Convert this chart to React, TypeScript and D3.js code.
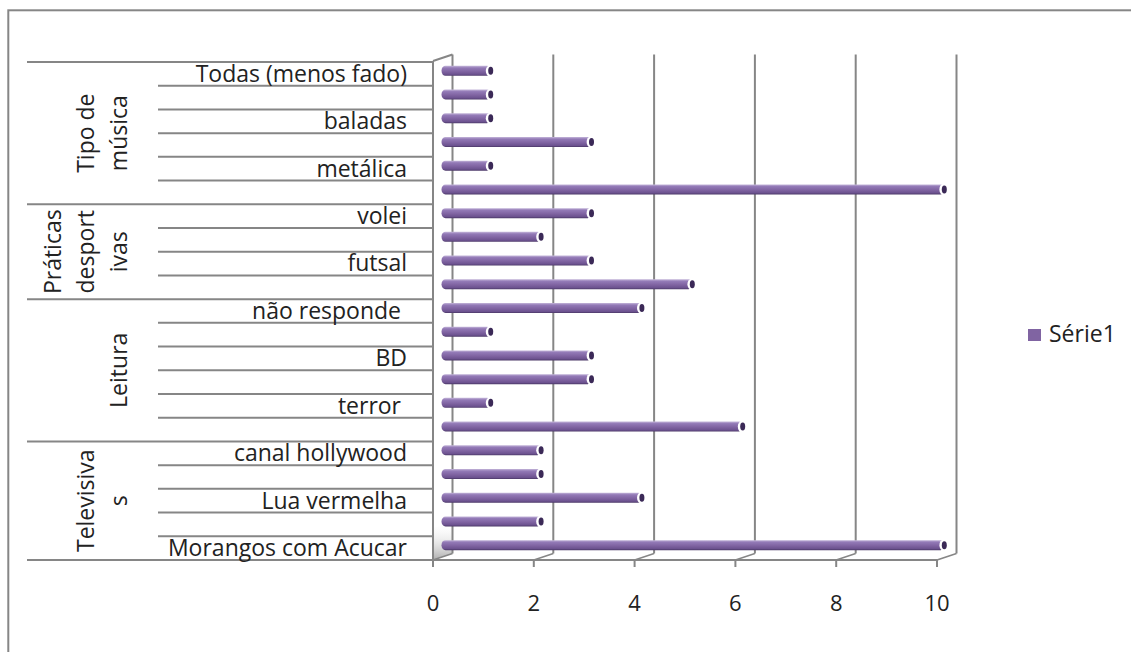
import React from "react";
import * as d3 from "d3";

// ---- data ----
const categories: string[] = [
  "Todas (menos fado)", "", "baladas", "", "metálica", "",
  "volei", "", "futsal", "",
  "não responde ", "", "BD", "", "terror ", "",
  "canal hollywood", "", "Lua vermelha", "", "Morangos com Acucar",
];
const values: number[] = [
  1, 1, 1, 3, 1, 10,
  3, 2, 3, 5,
  4, 1, 3, 3, 1, 6,
  2, 2, 4, 2, 10,
];
const groupNames: string[] = ["Tipo de música", "Práticas desportivas", "Leitura", "Televisivas"];
const groupLines: string[][] = [["Tipo de", "música"], ["Práticas", "desport", "ivas"], ["Leitura"], ["Televisiva", "s"]];
const groupSizes: number[] = [6, 4, 6, 5];
const xTicks: number[] = [0, 2, 4, 6, 8, 10];
const seriesName = "Série1";

const W = 1131;
const H = 652;
const FONT = "'Open Sans', 'Liberation Sans', sans-serif";
const GRAY = "#868686";
const PURPLE = "#8064A2";

export default function App() {
  const x = d3.scaleLinear().domain([0, 10]).range([433, 937]);
  const y = d3.scaleBand<number>().domain(d3.range(categories.length)).range([62, 560]);
  const bw = y.bandwidth();
  const DX = 19.5; // depth offset
  const DY = -6.5;
  const barX = (v: number) => x(v) + 8.5;
  const barDY = -3;

  const bounds: number[] = [0];
  groupSizes.forEach((s) => bounds.push(bounds[bounds.length - 1] + s));
  const yAt = (i: number) => (i < categories.length ? (y(i) as number) : 560);

  return (
    <svg width={W} height={H} style={{ position: "absolute", left: 0, top: 0, background: "#fff" }} fontFamily={FONT}>
      <defs>
        <linearGradient id="barGrad" x1="0" y1="0" x2="0" y2="1">
          <stop offset="0" stopColor="#c4b6da" />
          <stop offset="0.2" stopColor="#937ab7" />
          <stop offset="0.55" stopColor="#8064a2" />
          <stop offset="0.85" stopColor="#6c528f" />
          <stop offset="1" stopColor="#4a3766" />
        </linearGradient>
        <linearGradient id="wallGrad" x1="0" y1="0" x2="0" y2="1">
          <stop offset="0" stopColor="#ffffff" stopOpacity="0" />
          <stop offset="1" stopColor="#9a9a9a" stopOpacity="0.8" />
        </linearGradient>
      </defs>
      <rect x={0} y={0} width={W} height={H} fill="#fff" />
      <rect x={8.3} y={10.3} width={1200} height={700} fill="none" stroke={GRAY} strokeWidth={2} />

      <polygon
        points={`433,528 ${433 + DX},${528 + DY} ${433 + DX},${560 + DY} 433,560`}
        fill="url(#wallGrad)"
      />

      {xTicks.map((t) => (
        <line key={"g" + t} x1={x(t) + DX} x2={x(t) + DX} y1={61 + DY} y2={560 + DY} stroke={GRAY} strokeWidth={2} />
      ))}
      {xTicks.map((t) => (
        <g key={"f" + t}>
          <line x1={x(t)} y1={560} x2={x(t) + DX} y2={560 + DY} stroke={GRAY} strokeWidth={1.5} />
          <line x1={x(t)} y1={560} x2={x(t)} y2={567} stroke={GRAY} strokeWidth={2} />
          <text x={x(t)} y={611} textAnchor="middle" fontSize={22} fill="#222">{t}</text>
        </g>
      ))}
      <line x1={x(0)} x2={x(10)} y1={560} y2={560} stroke={GRAY} strokeWidth={2} />
      <line x1={433} x2={433} y1={61} y2={567} stroke={GRAY} strokeWidth={2} />
      <line x1={433} y1={61} x2={433 + DX} y2={61 + DY} stroke={GRAY} strokeWidth={2} />

      {values.map((v, i) => {
        const cy = (y(i) as number) + bw / 2 + barDY;
        const x0 = barX(0);
        const xe = barX(v);
        const h = 10;
        return (
          <g key={"b" + i}>
            <rect x={x0} y={cy - h / 2} width={Math.max(0, xe - x0 - 1)} height={h} rx={4} ry={5} fill="url(#barGrad)" />
            <ellipse cx={xe - 2.3} cy={cy} rx={3.8} ry={5.4} fill="#fff" />
            <ellipse cx={xe - 1.2} cy={cy} rx={2.5} ry={4} fill="#3b2957" />
          </g>
        );
      })}

      {d3.range(categories.length + 1).map((i) => {
        const isGroup = bounds.includes(i);
        return (
          <line key={"c" + i} x1={isGroup ? 27 : 158} x2={433} y1={yAt(i)} y2={yAt(i)} stroke={GRAY} strokeWidth={2} />
        );
      })}

      {categories.map((c, i) =>
        c ? (
          <text key={"l" + i} x={407} y={(y(i) as number) + bw - 4} textAnchor="end" fontSize={23} fill="#222" style={{ whiteSpace: "pre" }}>
            {c}
          </text>
        ) : null
      )}

      {groupNames.map((g, gi) => {
        const cy = (yAt(bounds[gi]) + yAt(bounds[gi + 1])) / 2;
        const lines = groupLines[gi];
        const n = lines.length;
        return (
          <g key={"gr" + gi} aria-label={g}>
            {lines.map((ln, li) => {
              const bx = 127 - (n - 1 - li) * 33;
              return (
                <text key={li} transform={`translate(${bx},${cy}) rotate(-90)`} textAnchor="middle" fontSize={23} fill="#222">
                  {ln}
                </text>
              );
            })}
          </g>
        );
      })}

      <rect x={1028} y={329} width={13} height={12} fill={PURPLE} />
      <text x={1049} y={342} fontSize={23} fill="#222">{seriesName}</text>
    </svg>
  );
}
